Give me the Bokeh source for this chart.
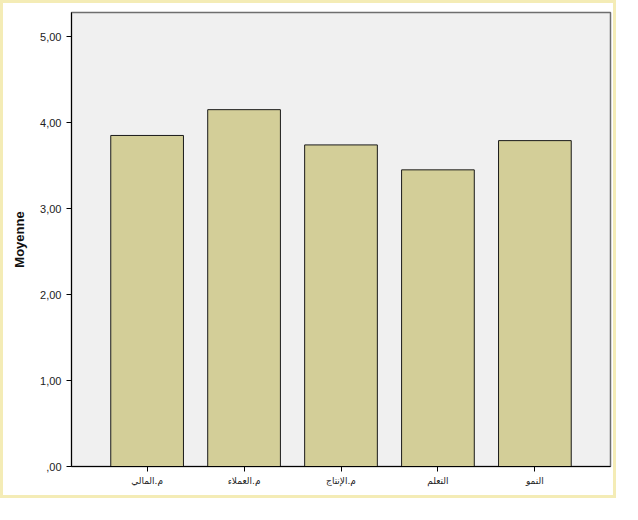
from bokeh.plotting import figure
from bokeh.models import FactorRange, Range1d, FixedTicker, ColumnDataSource
from bokeh.embed import file_html
from bokeh.resources import INLINE

categories = ["م.المالي", "م.العملاء", "م.الإنتاج", "التعلم", "النمو"]
means = [3.85, 4.15, 3.74, 3.45, 3.79]
y_ticks = [0, 1, 2, 3, 4, 5]
y_tick_labels = [",00", "1,00", "2,00", "3,00", "4,00", "5,00"]

src = ColumnDataSource(dict(cat=categories, mean=means))

p = figure(
    x_range=FactorRange(*categories, range_padding=0.28, range_padding_units="absolute"),
    y_range=Range1d(0, 5.28),
    width=616, height=498,
    output_backend="svg", toolbar_location=None,
    min_border_left=68, min_border_right=9, min_border_top=9, min_border_bottom=35,
    background_fill_color="#f0f0f0", border_fill_color=None,
)
p.styles = {"border": "3px solid #f4ecb6", "background-color": "white"}

p.vbar(x="cat", top="mean", width=0.75, source=src,
       fill_color="#d3ce98", line_color="#1a1a1a", line_width=1)

p.outline_line_color = "#6e6e6e"
p.outline_line_width = 1.5
p.xgrid.visible = False
p.ygrid.visible = False

p.yaxis.ticker = FixedTicker(ticks=y_ticks)
p.yaxis.major_label_overrides = {t: l for t, l in zip(y_ticks, y_tick_labels)}
p.yaxis.minor_tick_line_color = None
p.yaxis.major_tick_out = 5
p.yaxis.major_tick_in = 0
p.yaxis.major_label_text_font = "Liberation Sans"
p.yaxis.major_label_text_font_size = "11px"
p.yaxis.major_label_text_color = "#222222"
p.yaxis.axis_label = "Moyenne"
p.yaxis.axis_label_text_font = "Liberation Sans"
p.yaxis.axis_label_text_font_style = "bold"
p.yaxis.axis_label_text_font_size = "13px"
p.yaxis.axis_label_text_color = "#111111"
p.yaxis.axis_label_standoff = 10
p.yaxis.axis_line_color = "black"
p.yaxis.major_tick_line_color = "black"

p.xaxis.major_tick_out = 5
p.xaxis.major_tick_in = 0
p.xaxis.major_label_text_font = "DejaVu Sans"
p.xaxis.major_label_text_font_size = "9px"
p.xaxis.major_label_text_color = "#222222"
p.xaxis.axis_line_color = "black"
p.xaxis.major_tick_line_color = "black"
p.xaxis.major_label_standoff = 4

open("out.html", "w").write(file_html(p, INLINE))
